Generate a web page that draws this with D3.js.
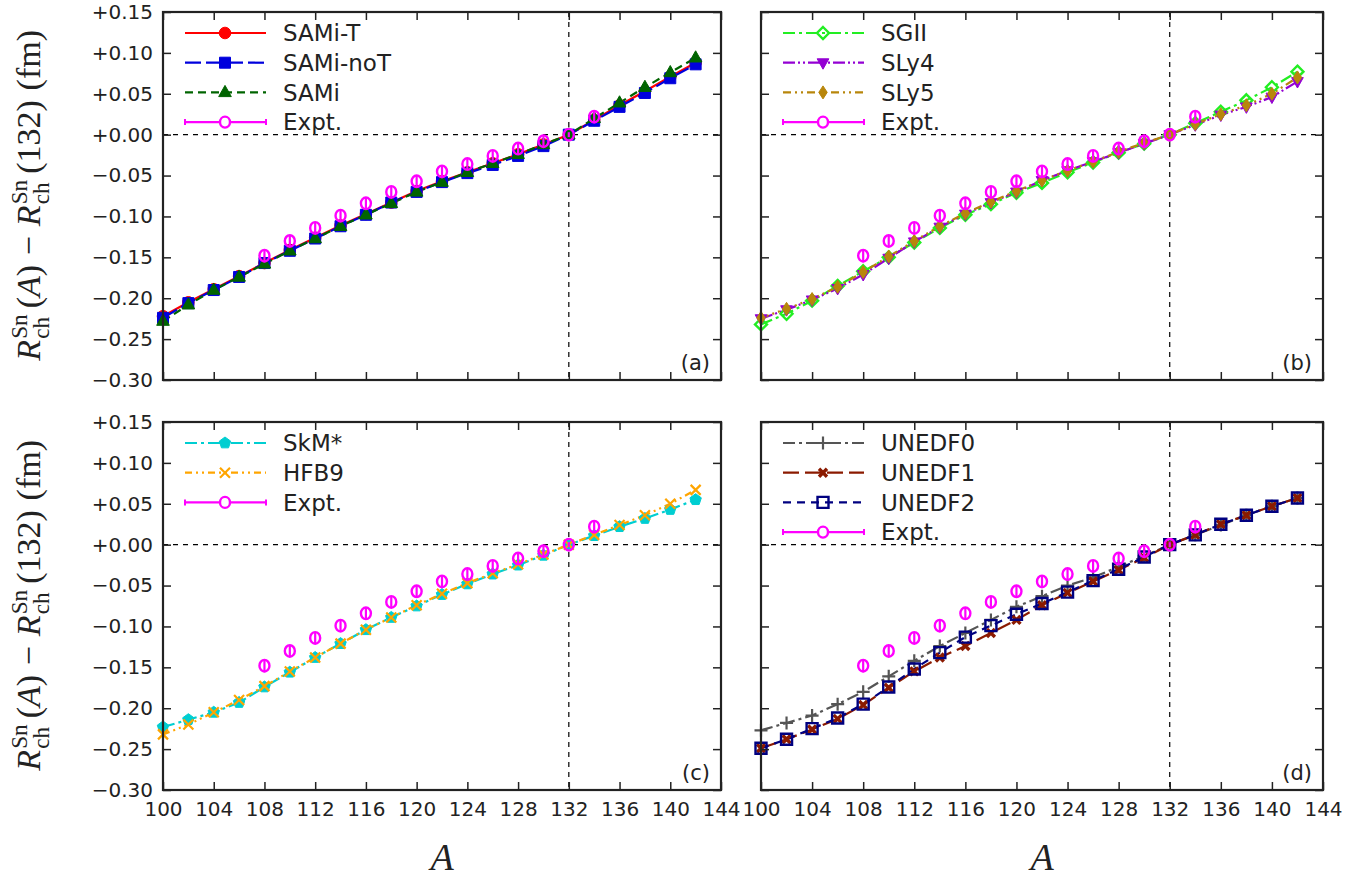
<!DOCTYPE html>
<html><head><meta charset="utf-8">
<script src="https://cdn.jsdelivr.net/npm/d3@7"></script>
<style>
body{margin:0;background:#fff;}
svg{display:block;}
text{fill:#222;}
</style></head>
<body><svg id="chart" width="1365" height="878"></svg>
<script>
// ---------------- DATA ----------------
const massNumbers = [100,102,104,106,108,110,112,114,116,118,120,122,124,126,128,130,132,134,136,138,140,142];
const exptA      = [108,110,112,114,116,118,120,122,124,126,128,130,132,134];
const exptValues = [-0.148,-0.130,-0.114,-0.099,-0.084,-0.070,-0.057,-0.045,-0.036,-0.026,-0.017,-0.008,0.000,0.022];
const exptErrors = [0.008,0.007,0.007,0.007,0.007,0.007,0.007,0.007,0.007,0.007,0.007,0.008,0.003,0.007];

const samiT   = [-0.222,-0.205,-0.189,-0.173,-0.157,-0.141,-0.126,-0.111,-0.097,-0.083,-0.069,-0.057,-0.046,-0.035,-0.024,-0.012,0,0.018,0.036,0.053,0.071,0.088];
const samiNoT = [-0.224,-0.206,-0.190,-0.174,-0.157,-0.142,-0.127,-0.112,-0.098,-0.083,-0.070,-0.058,-0.047,-0.037,-0.026,-0.014,0,0.017,0.034,0.051,0.069,0.086];
const sami    = [-0.228,-0.208,-0.190,-0.174,-0.158,-0.142,-0.127,-0.112,-0.098,-0.084,-0.070,-0.058,-0.046,-0.035,-0.024,-0.012,0,0.020,0.039,0.058,0.076,0.094];

const sgii = [-0.232,-0.219,-0.203,-0.185,-0.167,-0.150,-0.132,-0.114,-0.098,-0.085,-0.071,-0.059,-0.046,-0.034,-0.022,-0.011,0,0.014,0.028,0.042,0.058,0.077];
const sly4 = [-0.225,-0.214,-0.202,-0.188,-0.171,-0.151,-0.131,-0.113,-0.097,-0.083,-0.070,-0.056,-0.044,-0.033,-0.022,-0.011,0,0.012,0.024,0.034,0.046,0.065];
const sly5 = [-0.224,-0.213,-0.201,-0.186,-0.168,-0.149,-0.130,-0.112,-0.096,-0.082,-0.069,-0.056,-0.044,-0.033,-0.021,-0.010,0,0.013,0.025,0.036,0.050,0.070];

const skmStar = [-0.223,-0.214,-0.205,-0.193,-0.174,-0.156,-0.138,-0.121,-0.104,-0.089,-0.075,-0.061,-0.048,-0.036,-0.025,-0.013,0,0.011,0.022,0.032,0.043,0.055];
const hfb9    = [-0.232,-0.220,-0.205,-0.190,-0.173,-0.155,-0.138,-0.121,-0.104,-0.089,-0.074,-0.060,-0.047,-0.035,-0.024,-0.012,0,0.012,0.024,0.036,0.050,0.067];

const unedf0 = [-0.227,-0.218,-0.209,-0.195,-0.180,-0.161,-0.142,-0.124,-0.108,-0.092,-0.076,-0.063,-0.050,-0.040,-0.027,-0.014,0,0.012,0.024,0.036,0.047,0.057];
const unedf1 = [-0.249,-0.238,-0.226,-0.213,-0.196,-0.175,-0.155,-0.138,-0.124,-0.108,-0.092,-0.074,-0.059,-0.045,-0.031,-0.016,0,0.012,0.025,0.036,0.047,0.057];
const unedf2 = [-0.249,-0.238,-0.225,-0.212,-0.195,-0.174,-0.152,-0.132,-0.113,-0.099,-0.085,-0.072,-0.058,-0.044,-0.030,-0.015,0,0.012,0.025,0.036,0.047,0.057];

const xTicks = [100,104,108,112,116,120,124,128,132,136,140,144];
const yTicks = [0.15,0.10,0.05,0.00,-0.05,-0.10,-0.15,-0.20,-0.25,-0.30];
const panelTags = ["(a)","(b)","(c)","(d)"];

// ---------------- CONFIG ----------------
const FONT = "'DejaVu Sans', sans-serif";
const SERIF = "'Liberation Serif','DejaVu Serif',serif";
const panels = [
  {tag:panelTags[0], x0:163, x1:721, y0:12,  y1:380, left:true,  bottom:false,
   series:[
    {name:"SAMi-T",   vals:samiT,   color:"#ff0000", dash:null,        marker:"circle",  fill:true, size:5.8},
    {name:"SAMi-noT", vals:samiNoT, color:"#0000dd", dash:"16,5",      marker:"square",  fill:true, size:5.5},
    {name:"SAMi",     vals:sami,    color:"#006400", dash:"8,5",       marker:"triUp",   fill:true, size:7}]},
  {tag:panelTags[1], x0:761, x1:1323, y0:12, y1:380, left:false, bottom:false,
   series:[
    {name:"SGII", vals:sgii, color:"#22ee22", dash:"12,4,3,4",       marker:"diamond", fill:false, size:6},
    {name:"SLy4", vals:sly4, color:"#9400d3", dash:"12,3,2,3,2,3",   marker:"triDown", fill:true,  size:6.5},
    {name:"SLy5", vals:sly5, color:"#b8860b", dash:"8,4,2,4,2,4",    marker:"thinDiamond", fill:true, size:6.5}]},
  {tag:panelTags[2], x0:163, x1:721, y0:422, y1:790, left:true, bottom:true,
   series:[
    {name:"SkM*", vals:skmStar, color:"#00ced1", dash:"12,4,3,4",    marker:"pentagon", fill:true, size:6},
    {name:"HFB9", vals:hfb9,    color:"#ffa500", dash:"7,4,2,4,2,4", marker:"x", fill:false, size:5}]},
  {tag:panelTags[3], x0:761, x1:1323, y0:422, y1:790, left:false, bottom:true,
   series:[
    {name:"UNEDF0", vals:unedf0, color:"#555555", dash:"12,4,3,4", marker:"plus", fill:false, size:6.5},
    {name:"UNEDF1", vals:unedf1, color:"#8b1a00", dash:"16,6",     marker:"xbold", fill:false, size:4},
    {name:"UNEDF2", vals:unedf2, color:"#000080", dash:"8,6",      marker:"square", fill:false, size:5.5}]}
];
const EXPT_COLOR = "#ff00ff";

function markerPath(type, r){
  switch(type){
    case "circle": return d3.symbol(d3.symbolCircle, Math.PI*r*r)();
    case "square": return `M${-r},${-r}h${2*r}v${2*r}h${-2*r}Z`;
    case "triUp": return `M0,${-r}L${r*0.9},${r*0.6}L${-r*0.9},${r*0.6}Z`;
    case "triDown": return `M0,${r}L${r*0.9},${-r*0.6}L${-r*0.9},${-r*0.6}Z`;
    case "diamond": return `M0,${-r}L${r},0L0,${r}L${-r},0Z`;
    case "thinDiamond": return `M0,${-r}L${r*0.65},0L0,${r}L${-r*0.65},0Z`;
    case "pentagon": { let p=[]; for(let i=0;i<5;i++){const a=-Math.PI/2+i*2*Math.PI/5; p.push([r*Math.cos(a),r*Math.sin(a)]);} return "M"+p.map(q=>q.join(",")).join("L")+"Z"; }
    case "plus": return `M${-r},0H${r}M0,${-r}V${r}`;
    case "x": case "xbold": return `M${-r},${-r}L${r},${r}M${-r},${r}L${r},${-r}`;
  }
}
function drawMarker(g, s, x, y){
  const p = g.append("path").attr("d", markerPath(s.marker, s.size)).attr("transform",`translate(${x},${y})`);
  if (s.marker==="plus"||s.marker==="x"||s.marker==="xbold"){
    p.attr("fill","none").attr("stroke",s.color).attr("stroke-width", s.marker==="xbold"?3.4:2.2);
  } else if (s.fill){
    p.attr("fill",s.color).attr("stroke",s.color).attr("stroke-width",1);
  } else {
    p.attr("fill","none").attr("stroke",s.color).attr("stroke-width",2.4);
  }
}
function fmtY(v){
  const a = Math.abs(v).toFixed(2);
  return (v < -1e-9 ? "\u2212" : "+") + a;
}

const svg = d3.select("#chart");

panels.forEach(P=>{
  const x = d3.scaleLinear().domain([100,144]).range([P.x0,P.x1]);
  const y = d3.scaleLinear().domain([-0.30,0.15]).range([P.y1,P.y0]);
  const g = svg.append("g");

  // reference lines
  g.append("line").attr("x1",P.x0).attr("x2",P.x1).attr("y1",y(0)).attr("y2",y(0))
    .attr("stroke","#000").attr("stroke-width",1.2).attr("stroke-dasharray","5,5");
  g.append("line").attr("x1",x(132)).attr("x2",x(132)).attr("y1",P.y0).attr("y2",P.y1)
    .attr("stroke","#000").attr("stroke-width",1.2).attr("stroke-dasharray","5,5");

  // series lines + markers
  P.series.forEach(s=>{
    const pts = massNumbers.map((a,i)=>[a,s.vals[i]]);
    const line = d3.line().x(d=>x(d[0])).y(d=>y(d[1]));
    g.append("path").attr("d",line(pts)).attr("fill","none").attr("stroke",s.color)
      .attr("stroke-width",2.2).attr("stroke-dasharray",s.dash);
  });
  P.series.forEach(s=>{
    massNumbers.forEach((a,i)=>drawMarker(g,s,x(a),y(s.vals[i])));
  });
  // expt
  exptA.forEach((a,i)=>{
    const cx=x(a), v=exptValues[i], e=exptErrors[i];
    g.append("line").attr("x1",cx).attr("x2",cx).attr("y1",y(v+e)).attr("y2",y(v-e))
      .attr("stroke",EXPT_COLOR).attr("stroke-width",2.2);
    g.append("ellipse").attr("cx",cx).attr("cy",y(v)).attr("rx",5).attr("ry",5.8).attr("fill","none")
      .attr("stroke",EXPT_COLOR).attr("stroke-width",2.4);
  });

  // axes (inward ticks)
  const yl = d3.axisLeft(y).tickValues(yTicks).tickSizeInner(-8).tickSizeOuter(0).tickPadding(10)
     .tickFormat(P.left? fmtY : ()=> "");
  const yr = d3.axisRight(y).tickValues(yTicks).tickSizeInner(-8).tickSizeOuter(0).tickFormat(()=> "");
  const xb = d3.axisBottom(x).tickValues(xTicks).tickSizeInner(-8).tickSizeOuter(0).tickPadding(12)
     .tickFormat(P.bottom? d3.format("d") : ()=> "");
  const xt = d3.axisTop(x).tickValues(xTicks).tickSizeInner(-8).tickSizeOuter(0).tickFormat(()=> "");
  [[yl,`translate(${P.x0},0)`],[yr,`translate(${P.x1},0)`],[xb,`translate(0,${P.y1})`],[xt,`translate(0,${P.y0})`]]
    .forEach(([ax,tr])=>{
      const a = g.append("g").attr("transform",tr).call(ax);
      a.select(".domain").remove();
      a.selectAll(".tick line").attr("stroke","#222").attr("stroke-width",1.5);
      a.selectAll(".tick text").style("font-family",FONT).style("font-size","20px").attr("fill","#222");
    });
  g.append("rect").attr("x",P.x0).attr("y",P.y0).attr("width",P.x1-P.x0).attr("height",P.y1-P.y0)
    .attr("fill","none").attr("stroke","#222").attr("stroke-width",2.2);

  // panel tag
  g.append("text").attr("x",P.x1-11).attr("y",P.y1-10).attr("text-anchor","end")
    .style("font-family",FONT).style("font-size","21px").text(P.tag);

  // legend
  const items = P.series.concat([{name:"Expt.", expt:true}]);
  const lx0 = P.x0+22, lx1 = P.x0+103, lmx = P.x0+62, ltx = P.x0+120;
  items.forEach((s,i)=>{
    const ly = P.y0 + 21 + i*29.7;
    if (s.expt){
      g.append("line").attr("x1",lx0).attr("x2",lx1).attr("y1",ly).attr("y2",ly).attr("stroke",EXPT_COLOR).attr("stroke-width",2.2);
      [lx0,lx1].forEach(cx=>g.append("line").attr("x1",cx).attr("x2",cx).attr("y1",ly-3).attr("y2",ly+3).attr("stroke",EXPT_COLOR).attr("stroke-width",2));
      g.append("ellipse").attr("cx",lmx).attr("cy",ly).attr("rx",5).attr("ry",5.5).attr("fill","#fff").attr("stroke",EXPT_COLOR).attr("stroke-width",2.4);
    } else {
      g.append("line").attr("x1",lx0).attr("x2",lx1).attr("y1",ly).attr("y2",ly).attr("stroke",s.color)
        .attr("stroke-width",2.2).attr("stroke-dasharray",s.dash);
      drawMarker(g,s,lmx,ly);
    }
    g.append("text").attr("x",ltx).attr("y",ly).attr("dy","0.36em")
      .style("font-family",FONT).style("font-size","23px").text(s.name);
  });
});

// y-axis labels (math)
function mathLabel(cx, cy){
  const outer = svg.append("g");
  const g = outer.append("g");
  const S = 28, s = 19;
  let x = 0;
  function put(txt, size, italic, dy){
    const t = g.append("text").attr("x",x).attr("y",dy||0)
      .style("font-family",SERIF).style("font-size",size+"px").style("font-style",italic?"italic":"normal").text(txt);
    return t.node().getComputedTextLength();
  }
  function R(){
    x += put("R", S, true, 0) + 1;
    const w1 = put("Sn", s, false, -11);
    const w2 = put("ch", s, false, 7);
    x += Math.max(w1,w2) + 5;
  }
  R();
  x += put("(", S, false); x += put("A", S, true); x += put(")", S, false);
  x += 8; x += put("\u2212", S, false); x += 8;
  R();
  x += put("(132)", S, false);
  x += 8;
  x += put("(fm)", S, false);
  const bb = g.node().getBBox();
  const target = 332;
  const k = target / bb.width;
  g.attr("transform",`scale(${k}) translate(${-bb.x - bb.width/2},${-(bb.y+bb.height/2)})`);
  outer.attr("transform",`translate(${cx},${cy}) rotate(-90)`);
}
mathLabel(30, 196);
mathLabel(30, 606);

// x-axis labels
[442, 1042].forEach(cx=>{
  svg.append("text").attr("x",cx).attr("y",870).attr("text-anchor","middle")
    .style("font-family",SERIF).style("font-size","38px").style("font-style","italic").text("A");
});
</script></body></html>
